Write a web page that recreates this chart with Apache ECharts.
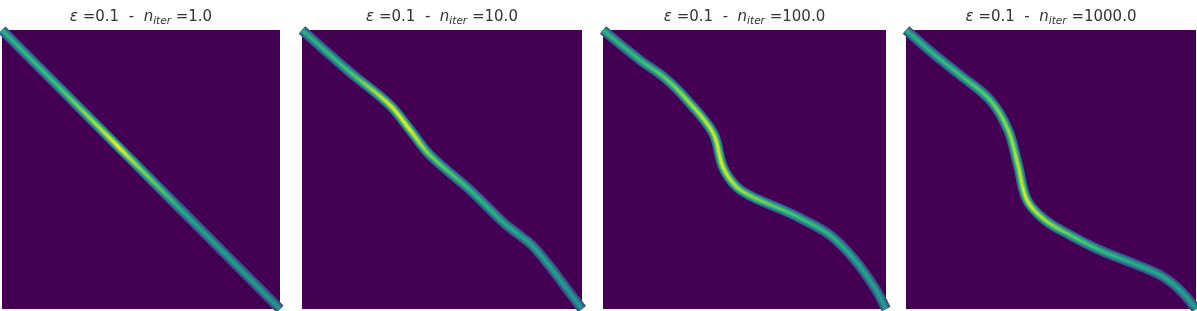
<!DOCTYPE html>
<html><head><meta charset="utf-8">
<script src="https://cdn.jsdelivr.net/npm/echarts@6/dist/echarts.min.js"></script>
<style>html,body{margin:0;padding:0;background:#fff}#c{width:1197px;height:311px}</style>
</head><body><div id="c"></div>
<script>
// ---- data ----
const epsilon = '0.1';
const nIter = ['1.0', '10.0', '100.0', '1000.0'];

// curve of the transport plan in each panel: column position (u) and row position (v), 0..100
const p1U = [0, 20, 35, 42, 50, 65, 80, 100];
const p1V = [0, 20, 35, 42, 50, 65, 80, 100];
const p1Level = [0.64, 0.7, 0.9, 1.0, 0.82, 0.6, 0.56, 0.53];

const p2U = [0, 17, 31.4, 38.6, 45.7, 60, 72.5, 77, 82, 88, 94, 100];
const p2V = [0, 15, 26.9, 35.8, 44.8, 57.3, 69.5, 73, 77, 84, 92, 100];
const p2Level = [0.62, 0.7, 0.96, 0.98, 0.8, 0.66, 0.62, 0.6, 0.59, 0.57, 0.55, 0.53];

const p3U = [0, 13.1, 21.9, 29.7, 38.9, 42.4, 47.3, 53, 63.6, 69.6, 80.2, 89, 96.1, 100];
const p3V = [0, 10.8, 17.2, 25.1, 36.9, 49.1, 56.3, 59.9, 64.5, 67.4, 73.5, 82.4, 92.5, 100];
const p3Level = [0.64, 0.68, 0.76, 0.86, 0.94, 0.96, 0.88, 0.82, 0.74, 0.7, 0.65, 0.6, 0.58, 0.56];

const p4U = [0, 10, 18.6, 29, 35.2, 38.6, 41.7, 47.9, 56.6, 66.9, 77.2, 87.6, 94.5, 100];
const p4V = [0, 9, 16.1, 25.1, 35.8, 48.4, 60.9, 68.1, 73.5, 78.9, 83.2, 87.8, 93.2, 100];
const p4Level = [0.62, 0.66, 0.7, 0.76, 0.84, 0.9, 0.96, 0.88, 0.76, 0.68, 0.63, 0.6, 0.58, 0.56];

const panels = [
  {u: p1U, v: p1V, level: p1Level},
  {u: p2U, v: p2V, level: p2Level},
  {u: p3U, v: p3V, level: p3Level},
  {u: p4U, v: p4V, level: p4Level}
];

// ---- styling ----
const VIR = ['#440154','#482475','#414487','#355f8d','#2a788e','#21918c','#22a884','#44bf70','#7ad151','#bddf26','#fde725'];
function hex(c){return [parseInt(c.slice(1,3),16),parseInt(c.slice(3,5),16),parseInt(c.slice(5,7),16)];}
function viridis(t){
  t = Math.max(0, Math.min(1, t));
  const p = t * 10, i = Math.min(9, Math.floor(p)), f = p - i;
  const a = hex(VIR[i]), b = hex(VIR[i+1]);
  return 'rgb(' + a.map((x,k)=>Math.round(x + (b[k]-x)*f)).join(',') + ')';
}
const layers = [{w: 10, f: 0.4}, {w: 7, f: 0.65}, {w: 4.5, f: 0.86}, {w: 2, f: 1.0}];
const boxes = [
  {left: 2, width: 278},
  {left: 302, width: 280},
  {left: 603, width: 283},
  {left: 906, width: 290}
];
const TOP = 30, H = 279;

const option = {
  backgroundColor: '#ffffff',
  animation: false,
  title: [], grid: [], xAxis: [], yAxis: [], series: []
};

panels.forEach((p, i) => {
  const b = boxes[i];
  option.grid.push({left: b.left, top: TOP, width: b.width, height: H,
    show: true, backgroundColor: VIR[0], borderWidth: 0});
  option.xAxis.push({gridIndex: i, type: 'value', min: 0, max: 100, show: false});
  option.yAxis.push({gridIndex: i, type: 'value', min: 0, max: 100, inverse: true, show: false});
  option.title.push({
    left: b.left + b.width / 2, top: 7, textAlign: 'center', padding: 0,
    text: '{it|ε} =' + epsilon + '  -  {it|n}{sub|iter} =' + nIter[i],
    textStyle: {
      fontFamily: 'DejaVu Sans', fontSize: 15, fontWeight: 'normal', color: '#333333', lineHeight: 20,
      rich: {
        it: {fontFamily: 'DejaVu Sans', fontStyle: 'italic', fontSize: 15, color: '#333333', lineHeight: 20},
        sub: {fontFamily: 'DejaVu Sans', fontStyle: 'italic', fontSize: 10.5, color: '#333333', lineHeight: 10, verticalAlign: 'bottom'}
      }
    }
  });
  const data = p.u.map((x, k) => [x, p.v[k]]);
  layers.forEach(L => {
    const stops = p.u.map((x, k) => ({offset: x / 100, color: viridis(p.level[k] * L.f)}));
    option.series.push({
      type: 'line', xAxisIndex: i, yAxisIndex: i, data: data,
      smooth: 0.35, symbol: 'none', silent: true, clip: true,
      lineStyle: {width: L.w, cap: 'butt', join: 'round',
        color: {type: 'linear', x: 0, y: 0, x2: 1, y2: 0, colorStops: stops}}
    });
  });
});

const chart = echarts.init(document.getElementById('c'), null, {renderer: 'canvas'});
chart.setOption(option);
</script>
</body></html>
